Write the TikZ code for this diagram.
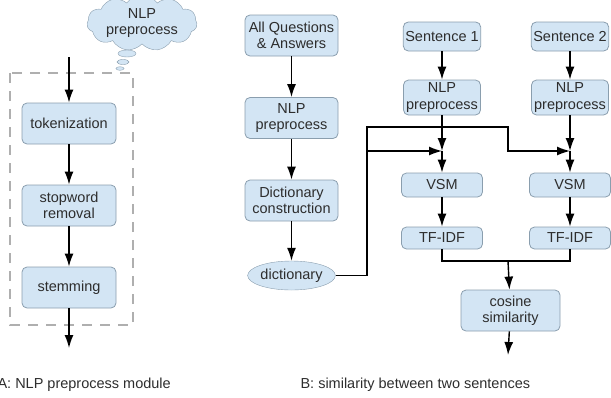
\documentclass[tikz,border=0pt]{standalone}
\usepackage{fontspec}
\setmainfont{Liberation Sans}
\usetikzlibrary{arrows.meta}
\usetikzlibrary{positioning}
\usetikzlibrary{shapes.symbols}
\usetikzlibrary{shapes.geometric}
\definecolor{boxfill}{RGB}{211,229,244}
\definecolor{boxedge}{RGB}{138,158,174}
\definecolor{inktext}{RGB}{45,45,45}
\definecolor{frame}{RGB}{175,175,175}
\tikzset{> = {Latex[length=13pt, width=9pt]}, node distance = 82pt,
  box/.style = {draw = boxedge, fill = boxfill, rounded corners = 5pt, line width = 0.8pt,
    text = inktext, align = center, inner sep = 2pt},
  flow/.style = {->, line width = 1.4pt},
  wire/.style = {line width = 1.4pt}}

\begin{document}
\begin{tikzpicture}[x = 1pt, y = -1pt, font = \fontsize{14.5}{16.5}\selectfont]
  \useasboundingbox (0,0) rectangle (611,397);
  % A: the preprocess module
  \node [cloud, cloud puffs = 11, cloud puff arc = 110, aspect = 2.6, draw = boxedge,
    fill = boxfill, text = inktext, align = center, inner sep = 0pt,
    minimum width = 110pt, minimum height = 38pt] (cloud) at (142,23) {NLP\\preprocess};
  \draw [draw = boxedge, fill = boxfill] (127,53.5) ellipse (9 and 3.5);
  \draw [draw = boxedge, fill = boxfill] (123,62) ellipse (6 and 2.5);
  \draw [draw = boxedge, fill = boxfill] (120,68.5) ellipse (4 and 1.8);
  \draw [frame, dashed, dash pattern = on 10pt off 8pt, line width = 1.3pt] (10,73) rectangle (133,325);
  \node [box, minimum width = 94pt, minimum height = 41pt] (tok) at (69,123.5) {tokenization};
  \node [box, minimum width = 94pt, minimum height = 41pt, below of = tok] (stop) {stopword\\removal};
  \node [box, minimum width = 94pt, minimum height = 41pt, below of = stop] (stem) {stemming};
  \coordinate (ain) at (69,57);
  \coordinate (aout) at (69,348);
  \draw [flow] (ain) -- (tok);
  \draw [flow] (tok) -- (stop);
  \draw [flow] (stop) -- (stem);
  \draw [flow] (stem) -- (aout);
  \node [text = inktext, anchor = base west] (capa) at (-6,388) {A: NLP preprocess module};

  % B: dictionary side
  \node [box, minimum width = 93pt, minimum height = 41pt] (qa) at (291.5,35.5) {All Questions\\\& Answers};
  \node [box, minimum width = 93pt, minimum height = 41pt, below of = qa, node distance = 82.5pt] (nlp0) {NLP\\preprocess};
  \node [box, minimum width = 93pt, minimum height = 41pt, below of = nlp0, node distance = 82.5pt] (build) {Dictionary\\construction};
  \node [ellipse, draw = boxedge, fill = boxfill, text = inktext, inner sep = 0pt,
    minimum width = 70pt, minimum height = 29pt, below of = build, node distance = 75pt] (dict) {dictionary};
  \draw [flow] (qa) -- (nlp0);
  \draw [flow] (nlp0) -- (build);
  \draw [flow] (build) -- (dict);

  % B: the two sentence columns
  \node [box, minimum width = 77pt, minimum height = 29pt] (sen1) at (442,36.5) {Sentence 1};
  \node [box, minimum width = 77pt, minimum height = 35pt, below of = sen1, node distance = 61pt] (nlp1) {NLP\\preprocess};
  \node [box, minimum width = 81pt, minimum height = 24pt, below of = nlp1, node distance = 87.5pt] (vsm1) {VSM};
  \node [box, minimum width = 81pt, minimum height = 22pt, below of = vsm1, node distance = 53pt] (tf1) {TF-IDF};
  \node [box, minimum width = 77pt, minimum height = 29pt] (sen2) at (570,36.5) {Sentence 2};
  \node [box, minimum width = 77pt, minimum height = 35pt, below of = sen2, node distance = 61pt] (nlp2) {NLP\\preprocess};
  \node [box, minimum width = 81pt, minimum height = 24pt, below of = nlp2, node distance = 87.5pt] (vsm2) {VSM};
  \node [box, minimum width = 81pt, minimum height = 22pt, below of = vsm2, node distance = 53pt] (tf2) {TF-IDF};
  \node [box, minimum width = 99pt, minimum height = 41pt] (cos) at (510.5,310.5) {cosine\\similarity};

  % junctions
  \coordinate (j1) at (442,151);
  \coordinate (j2) at (570,151);
  \coordinate (split) at (367,151);
  \coordinate (over) at (508,127);
  \coordinate (merge) at (508,261);
  \coordinate (bout) at (508,355);

  \draw [flow] (sen1) -- (nlp1);
  \draw [flow] (nlp1) -- (j1);
  \draw [flow] (j1) -- (vsm1);
  \draw [flow] (vsm1) -- (tf1);
  \draw [flow] (sen2) -- (nlp2);
  \draw [flow] (nlp2) -- (j2);
  \draw [flow] (j2) -- (vsm2);
  \draw [flow] (vsm2) -- (tf2);
  \draw [wire] (dict) -| (split);
  \draw [flow] (split) -- (j1);
  \draw [flow] (split) |- (over) |- (j2);
  \draw [wire] (tf1) |- (merge) -| (tf2);
  \draw [flow] (merge) -- (cos);
  \draw [flow] (cos) -- (bout);
  \node [text = inktext, anchor = base west] (capb) at (297,388) {B: similarity between two sentences};
\end{tikzpicture}
\end{document}
